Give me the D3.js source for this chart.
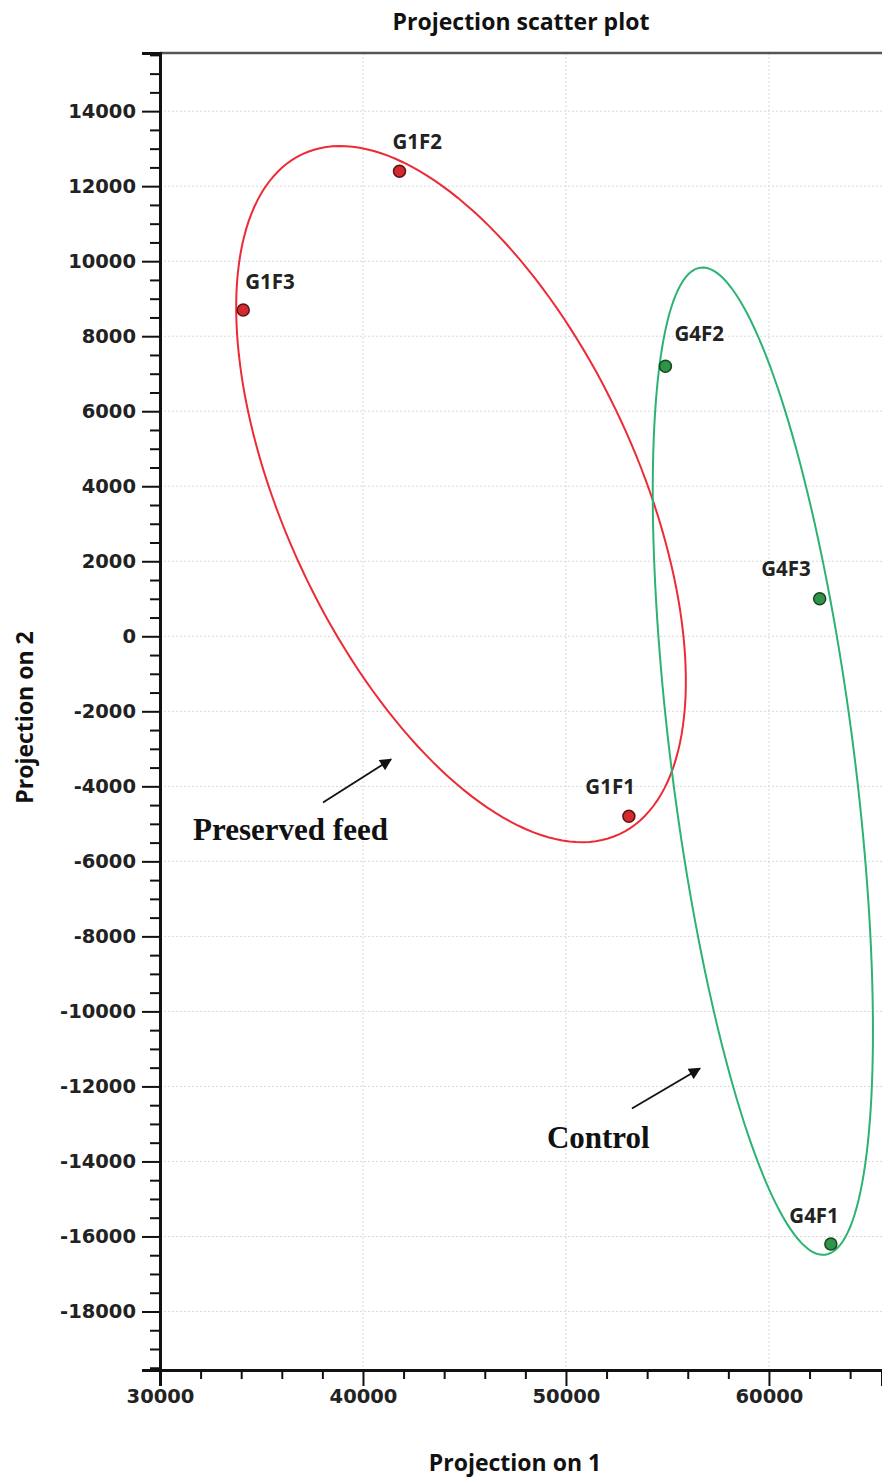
<!DOCTYPE html>
<html>
<head>
<meta charset="utf-8">
<script src="https://cdn.jsdelivr.net/npm/d3@7"></script>
<style>
  html, body { margin: 0; padding: 0; background: #fff; }
  svg { display: block; }
</style>
</head>
<body>
<svg id="chart" width="882" height="1477"></svg>
<script>
// Sample projections onto the first two components
const sampleNames = ["G1F1", "G1F2", "G1F3", "G4F1", "G4F2", "G4F3"];
const groupOf     = ["G1", "G1", "G1", "G4", "G4", "G4"];
const projection1 = [53100, 41800, 34100, 63050, 54900, 62500];
const projection2 = [-4800, 12400, 8700, -16200, 7200, 1000];

// Group outlines: centre plus two conjugate semi-axis vectors (data units)
const ellipseGroups  = ["G1", "G4"];
const ellipseCenterX = [44830, 59700];
const ellipseCenterY = [3790, -3330];
const ellipseAxisU   = [[7808, -9064], [3069, -13157]];
const ellipseAxisV   = [[-7857, -1984], [-4473, -307]];

// Group annotations
const noteTexts = ["Preserved feed", "Control"];
const noteTextX = [31630, 49060];
const noteTextY = [-5440, -13630];
const noteArrowFrom = [[38030, -4430], [53250, -12590]];
const noteArrowTo   = [[41380, -3280], [56600, -11520]];

// Axis ticks
const xMajorTicks = [30000, 40000, 50000, 60000];
const yMajorTicks = [-18000, -16000, -14000, -12000, -10000, -8000, -6000, -4000,
                     -2000, 0, 2000, 4000, 6000, 8000, 10000, 12000, 14000];
const xDomain = [30000, 65570];
const yDomain = [-19560, 15550];

const svg = d3.select("#chart");
const W = 882;
const margin = { left: 160, top: 53, right: 0, bottom: 107 };
const plotBottom = 1370;

const x = d3.scaleLinear().domain(xDomain).range([margin.left, W - margin.right]);
const y = d3.scaleLinear().domain(yDomain).range([plotBottom, margin.top]);

const fillColor   = { G1: "#d42a2f", G4: "#2f9447" };
const strokeColor = { G1: "#5a1414", G4: "#17451f" };
const ringColor   = { G1: "#ec2b36", G4: "#2cb373" };

// Label placement relative to each point
const labelPlace = {
  G1F1: { anchor: "end",   dx: 6,  dy: -22 },
  G1F2: { anchor: "start", dx: -7, dy: -22 },
  G1F3: { anchor: "start", dx: 2,  dy: -21 },
  G4F1: { anchor: "end",   dx: 8,  dy: -21 },
  G4F2: { anchor: "start", dx: 9,  dy: -25 },
  G4F3: { anchor: "end",   dx: -9, dy: -23 }
};

const boldSans = "'Open Sans', sans-serif";
const plainNum = d => String(d);

// Title
svg.append("text")
  .attr("x", (margin.left + W) / 2).attr("y", 30)
  .attr("text-anchor", "middle")
  .style("font-family", boldSans)
  .style("font-weight", "700").style("font-size", "23px").style("fill", "#111")
  .text("Projection scatter plot");

// Grid
const grid = svg.append("g").attr("stroke", "#d8d8d8").attr("stroke-width", 1)
  .attr("stroke-dasharray", "2,2");
grid.selectAll("line.h").data(yMajorTicks).join("line").attr("class", "h")
  .attr("x1", margin.left).attr("x2", W)
  .attr("y1", d => y(d)).attr("y2", d => y(d));
grid.selectAll("line.v").data(xMajorTicks.filter(d => d > xDomain[0])).join("line").attr("class", "v")
  .attr("y1", margin.top).attr("y2", plotBottom)
  .attr("x1", d => x(d)).attr("x2", d => x(d));

// Top frame line
svg.append("line")
  .attr("x1", margin.left).attr("x2", W).attr("y1", margin.top).attr("y2", margin.top)
  .attr("stroke", "#555").attr("stroke-width", 2.5);

// Axes
const tickFont = sel => sel.selectAll("text")
  .style("font-family", "'DejaVu Sans', sans-serif")
  .style("font-weight", "700").style("font-size", "19.5px").style("fill", "#222");

const xMinor = d3.range(30000, xDomain[1], 2000).filter(d => !xMajorTicks.includes(d));
const yMinor = d3.range(-19500, yDomain[1], 500).filter(d => !yMajorTicks.includes(d));

svg.append("g").attr("transform", `translate(0,${plotBottom})`)
  .call(d3.axisBottom(x).tickValues(xMinor).tickSize(9).tickFormat(""))
  .call(g => g.select(".domain").remove())
  .selectAll("line").attr("stroke", "#111").attr("stroke-width", 2);
svg.append("g").attr("transform", `translate(0,${plotBottom})`)
  .call(d3.axisBottom(x).tickValues(xMajorTicks).tickSize(16).tickPadding(3).tickFormat(plainNum))
  .call(g => g.select(".domain").attr("stroke", "#111").attr("stroke-width", 3))
  .call(g => g.selectAll("line").attr("stroke", "#111").attr("stroke-width", 2))
  .call(tickFont);

svg.append("g").attr("transform", `translate(${margin.left},0)`)
  .call(d3.axisLeft(y).tickValues(yMinor).tickSize(10).tickFormat(""))
  .call(g => g.select(".domain").remove())
  .selectAll("line").attr("stroke", "#111").attr("stroke-width", 2);
svg.append("g").attr("transform", `translate(${margin.left},0)`)
  .call(d3.axisLeft(y).tickValues(yMajorTicks).tickSize(18).tickPadding(6).tickFormat(plainNum))
  .call(g => g.select(".domain").attr("stroke", "#111").attr("stroke-width", 3))
  .call(g => g.selectAll("line").attr("stroke", "#111").attr("stroke-width", 2))
  .call(tickFont);

// Axis titles
svg.append("text")
  .attr("x", 515).attr("y", 1471).attr("text-anchor", "middle")
  .style("font-family", boldSans)
  .style("font-weight", "700").style("font-size", "23px").style("fill", "#111")
  .text("Projection on 1");
svg.append("text")
  .attr("transform", `translate(33,${(margin.top + plotBottom) / 2 + 6}) rotate(-90)`)
  .attr("text-anchor", "middle")
  .style("font-family", boldSans)
  .style("font-weight", "700").style("font-size", "23px").style("fill", "#111")
  .text("Projection on 2");

// Plot clip
svg.append("clipPath").attr("id", "plot-clip").append("rect")
  .attr("x", margin.left).attr("y", margin.top)
  .attr("width", W - margin.left).attr("height", plotBottom - margin.top);
const plot = svg.append("g").attr("clip-path", "url(#plot-clip)");

// Group ellipses
const line = d3.line().x(d => x(d[0])).y(d => y(d[1])).curve(d3.curveLinearClosed);
ellipseGroups.forEach((g, i) => {
  const pts = d3.range(0, 360, 2).map(deg => {
    const t = deg * Math.PI / 180;
    return [
      ellipseCenterX[i] + ellipseAxisU[i][0] * Math.cos(t) + ellipseAxisV[i][0] * Math.sin(t),
      ellipseCenterY[i] + ellipseAxisU[i][1] * Math.cos(t) + ellipseAxisV[i][1] * Math.sin(t)
    ];
  });
  plot.append("path").attr("d", line(pts))
    .attr("fill", "none").attr("stroke", ringColor[g]).attr("stroke-width", 2);
});

// Points
const samples = sampleNames.map((n, i) => ({ name: n, group: groupOf[i], px: projection1[i], py: projection2[i] }));
plot.selectAll("circle.pt").data(samples).join("circle").attr("class", "pt")
  .attr("cx", d => x(d.px)).attr("cy", d => y(d.py)).attr("r", 6)
  .attr("fill", d => fillColor[d.group]).attr("stroke", d => strokeColor[d.group]).attr("stroke-width", 1.5);

plot.selectAll("text.lbl").data(samples).join("text").attr("class", "lbl")
  .attr("x", d => x(d.px) + labelPlace[d.name].dx)
  .attr("y", d => y(d.py) + labelPlace[d.name].dy)
  .attr("text-anchor", d => labelPlace[d.name].anchor)
  .style("font-family", boldSans)
  .style("font-weight", "700").style("font-size", "20.5px").style("fill", "#222")
  .text(d => d.name);

// Annotations with arrows
svg.append("defs").append("marker")
  .attr("id", "arrowhead").attr("viewBox", "0 0 10 10")
  .attr("refX", 9).attr("refY", 5)
  .attr("orient", "auto").attr("markerUnits", "userSpaceOnUse")
  .attr("markerWidth", 14).attr("markerHeight", 12)
  .append("path").attr("d", "M0,0 L10,5 L0,10 Z").attr("fill", "#111");

noteTexts.forEach((t, i) => {
  svg.append("line")
    .attr("x1", x(noteArrowFrom[i][0])).attr("y1", y(noteArrowFrom[i][1]))
    .attr("x2", x(noteArrowTo[i][0])).attr("y2", y(noteArrowTo[i][1]))
    .attr("stroke", "#111").attr("stroke-width", 1.8)
    .attr("marker-end", "url(#arrowhead)");
  svg.append("text")
    .attr("x", x(noteTextX[i])).attr("y", y(noteTextY[i]))
    .style("font-family", "'Liberation Serif', 'Times New Roman', serif")
    .style("font-weight", "700").style("font-size", "31px").style("fill", "#111")
    .text(t);
});
</script>
</body>
</html>
